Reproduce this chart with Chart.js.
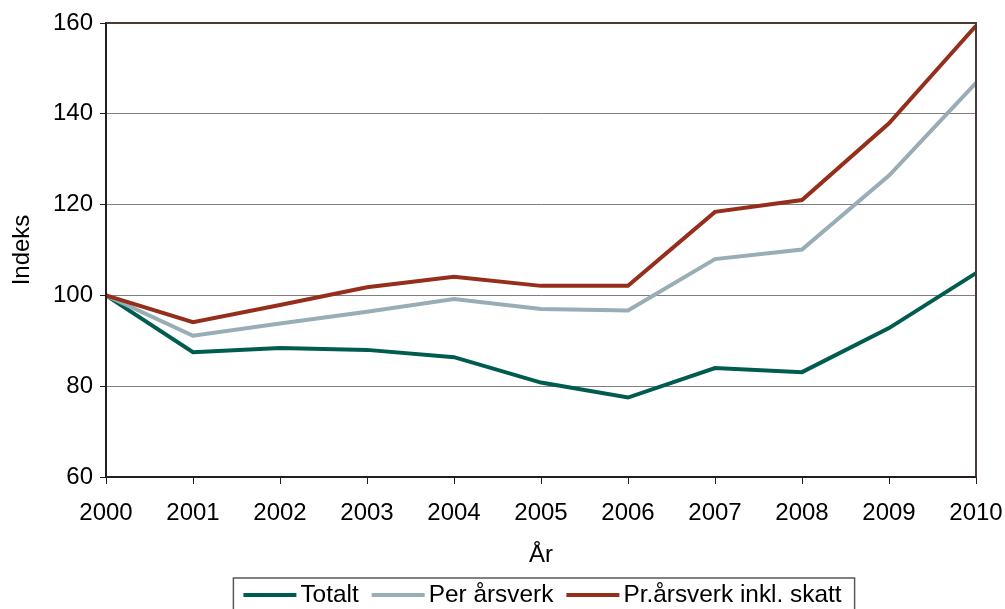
<!DOCTYPE html>
<html>
<head>
<meta charset="utf-8">
<script src="https://cdn.jsdelivr.net/npm/chart.js@4.4.1/dist/chart.umd.min.js"></script>
<style>
html,body{margin:0;padding:0;background:#fff;}
#wrap{width:1005px;height:609px;position:relative;}
</style>
</head>
<body>
<div id="wrap"><canvas id="c" width="1005" height="609"></canvas></div>
<script>
const years = ['2000','2001','2002','2003','2004','2005','2006','2007','2008','2009','2010'];
const totalt = [100, 87.5, 88.4, 88.0, 86.4, 80.8, 77.5, 84.0, 83.1, 92.8, 104.9];
const perArsverk = [100, 91.1, 93.8, 96.4, 99.2, 97.0, 96.7, 108.0, 110.1, 126.4, 146.8];
const prArsverkSkatt = [100, 94.1, 97.9, 101.8, 104.1, 102.1, 102.1, 118.4, 121.0, 137.9, 159.4];
const seriesNames = ['Totalt', 'Per årsverk', 'Pr.årsverk inkl. skatt'];
const yTicks = [60, 80, 100, 120, 140, 160];
const xTitle = 'År';
const yTitle = 'Indeks';

const FONT = 'Liberation Sans, Arial, sans-serif';
const colors = ['#005c50', '#98adb6', '#962e1c'];

const frame = {
  id: 'frame',
  afterDatasetsDraw(chart) {
    const {ctx, chartArea: a} = chart;
    ctx.save();
    ctx.strokeStyle = '#4b3b36';
    ctx.lineWidth = 2;
    ctx.beginPath();
    ctx.moveTo(a.left, a.top);
    ctx.lineTo(a.right, a.top);
    ctx.lineTo(a.right, a.bottom);
    ctx.stroke();
    ctx.strokeStyle = '#231f20';
    ctx.beginPath();
    ctx.moveTo(a.left, a.top);
    ctx.lineTo(a.left, a.bottom);
    ctx.lineTo(a.right, a.bottom);
    ctx.stroke();
    ctx.restore();
  }
};

const boxLegend = {
  id: 'boxLegend',
  afterDraw(chart) {
    const ctx = chart.ctx;
    ctx.save();
    ctx.font = '24.4px ' + FONT;
    const lineW = 53, gapText = 4, gapItem = 13;
    const ds = chart.data.datasets;
    let W = 0;
    ds.forEach((d, i) => {
      W += lineW + gapText + ctx.measureText(d.label).width;
      if (i < ds.length - 1) W += gapItem;
    });
    const cx = 542.5;
    const start = cx - W / 2;
    const cy = 595;
    ctx.strokeStyle = '#5a5a5a';
    ctx.lineWidth = 1.5;
    ctx.strokeRect(start - 10, 578, W + 23, 45);
    let x = start;
    ctx.textBaseline = 'middle';
    ctx.textAlign = 'left';
    ds.forEach((d, i) => {
      ctx.strokeStyle = d.borderColor;
      ctx.lineWidth = 4;
      ctx.beginPath();
      ctx.moveTo(x, cy);
      ctx.lineTo(x + lineW, cy);
      ctx.stroke();
      x += lineW + gapText;
      ctx.fillStyle = '#000';
      ctx.fillText(d.label, x, cy);
      x += ctx.measureText(d.label).width + gapItem;
    });
    ctx.restore();
  }
};

const seriesData = [totalt, perArsverk, prArsverkSkatt];
new Chart(document.getElementById('c'), {
  type: 'line',
  data: {
    labels: years,
    datasets: seriesData.map((d, i) => ({
      label: seriesNames[i],
      data: d,
      borderColor: colors[i],
      backgroundColor: colors[i],
      borderWidth: 4,
      pointRadius: 0,
      tension: 0,
      fill: false,
      order: 2 - i,
      borderJoinStyle: 'miter'
    }))
  },
  options: {
    responsive: false,
    animation: false,
    devicePixelRatio: 1,
    layout: { padding: { top: 23, right: 29, bottom: 34, left: 0 } },
    plugins: { legend: { display: false }, tooltip: { enabled: false } },
    scales: {
      x: {
        offset: false,
        grid: { drawOnChartArea: false, drawTicks: true, tickLength: 7, tickColor: '#231f20', lineWidth: 1 },
        border: { color: '#231f20', width: 2 },
        ticks: { color: '#000', font: { family: FONT, size: 24 }, padding: 15, maxRotation: 0, autoSkip: false },
        title: { display: true, text: xTitle, color: '#000', font: { family: FONT, size: 24 }, padding: { top: 0, bottom: 5 } },
        afterFit(s) { s.height = 98; s.paddingRight = 0; s.paddingLeft = 0; }
      },
      y: {
        min: 60, max: 160,
        afterBuildTicks(s) { s.ticks = yTicks.map(v => ({ value: v })); },
        grid: { color: '#7f7f7f', lineWidth: 1, drawTicks: true, tickLength: 6, tickColor: '#231f20' },
        border: { color: '#231f20', width: 2 },
        ticks: { color: '#000', font: { family: FONT, size: 24 }, padding: 7 },
        title: { display: true, text: yTitle, color: '#000', font: { family: FONT, size: 24 }, padding: { top: 8, bottom: 0 } },
        afterFit(s) { s.width = 106; s.paddingTop = 0; s.paddingBottom = 0; }
      }
    }
  },
  plugins: [frame, boxLegend]
});
</script>
</body>
</html>
